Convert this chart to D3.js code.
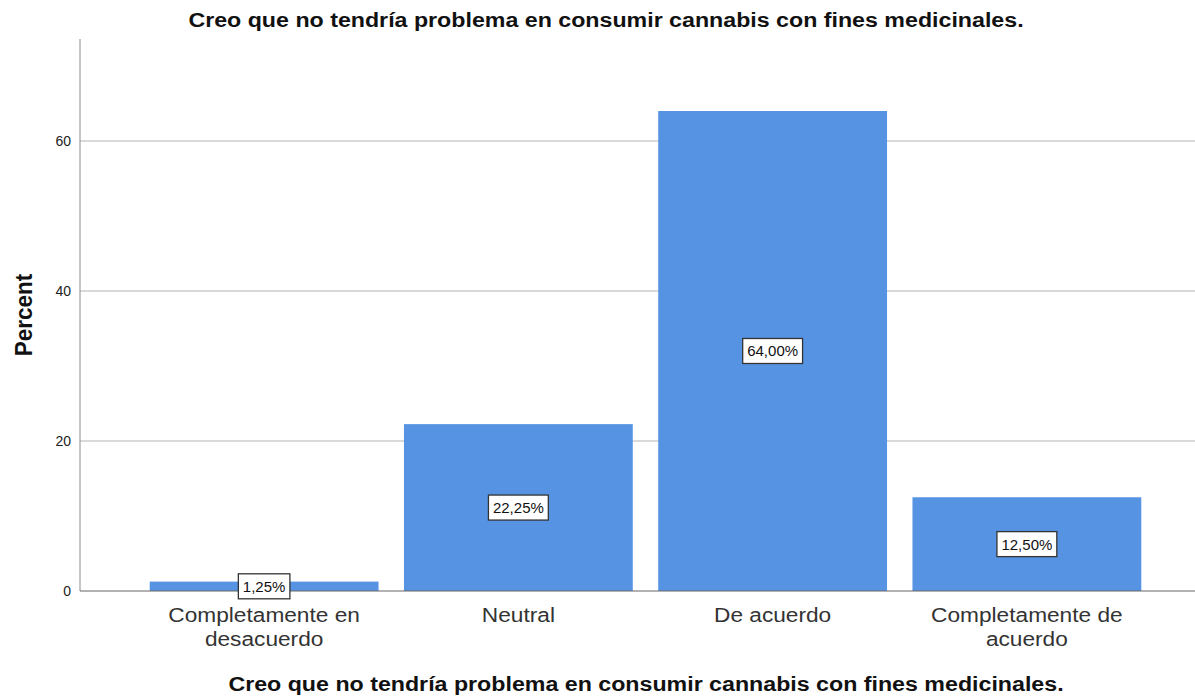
<!DOCTYPE html>
<html>
<head>
<meta charset="utf-8">
<script src="https://cdn.jsdelivr.net/npm/d3@7"></script>
<style>
  body { margin: 0; background: #fff; }
  svg { font-family: "Liberation Sans", Arial, sans-serif; }
</style>
</head>
<body>
<svg id="chart" width="1195" height="699"></svg>
<script>
// data
const categories = ["Completamente en|desacuerdo", "Neutral", "De acuerdo", "Completamente de|acuerdo"];
const percents = [1.25, 22.25, 64.00, 12.50];
const yTicks = [0, 20, 40, 60];
const chartTitle = "Creo que no tendría problema en consumir cannabis con fines medicinales.";

const svg = d3.select("#chart");
const plotLeft = 80, plotRight = 1195, plotTop = 39, plotBottom = 591;

const x = d3.scaleBand()
    .domain(categories)
    .range([137, 1154])
    .paddingInner(0.1)
    .paddingOuter(0.05);

const y = d3.scaleLinear()
    .domain([0, 73.6])
    .range([plotBottom, plotTop]);

// gridlines
svg.append("g")
    .selectAll("line")
    .data(yTicks.filter(d => d > 0))
    .join("line")
    .attr("x1", plotLeft).attr("x2", plotRight)
    .attr("y1", d => y(d)).attr("y2", d => y(d))
    .attr("stroke", "#b4b4b4").attr("stroke-width", 1);

// bars
svg.append("g")
    .selectAll("rect")
    .data(categories)
    .join("rect")
    .attr("x", d => x(d))
    .attr("width", x.bandwidth())
    .attr("y", (d, i) => y(percents[i]))
    .attr("height", (d, i) => y(0) - y(percents[i]))
    .attr("fill", "#5694e3");

// y axis
const yAxis = svg.append("g")
    .attr("transform", `translate(${plotLeft},0)`)
    .call(d3.axisLeft(y).tickValues(yTicks).tickSize(0).tickPadding(9));
yAxis.select(".domain").attr("stroke", "#8c8c8c").attr("d", `M0,${plotTop}V${plotBottom}`);
yAxis.selectAll("text").attr("font-size", 14).attr("fill", "#222")
    .attr("font-family", "Liberation Sans, Arial, sans-serif");

// baseline
svg.append("line")
    .attr("x1", plotLeft).attr("x2", plotRight)
    .attr("y1", y(0)).attr("y2", y(0))
    .attr("stroke", "#666").attr("stroke-width", 1.2);

// x category labels (source font is a bit wider than Liberation, stretch it)
svg.append("g")
    .selectAll("text")
    .data(categories)
    .join("text")
    .attr("text-anchor", "middle")
    .attr("font-size", 21)
    .attr("fill", "#333")
    .attr("transform", d => `translate(${x(d) + x.bandwidth() / 2},622) scale(1.08,1)`)
    .each(function(d) {
        d3.select(this).selectAll("tspan")
            .data(d.split("|"))
            .join("tspan")
            .attr("x", 0)
            .attr("dy", (p, i) => i === 0 ? 0 : 24)
            .text(p => p);
    });

// value labels
const fmt = v => v.toFixed(2).replace(".", ",") + "%";
const lab = svg.append("g")
    .selectAll("g")
    .data(categories)
    .join("g")
    .attr("transform", (d, i) => `translate(${x(d) + x.bandwidth() / 2},${(y(0) + y(percents[i])) / 2})`);
lab.append("text")
    .attr("text-anchor", "middle")
    .attr("dy", "0.36em")
    .attr("font-size", 15)
    .attr("fill", "#111")
    .text((d, i) => fmt(percents[i]));
lab.each(function() {
    const g = d3.select(this);
    const bb = g.select("text").node().getBBox();
    g.insert("rect", "text")
        .attr("x", bb.x - 4.5).attr("y", -12.5)
        .attr("width", bb.width + 9).attr("height", 25)
        .attr("fill", "#fff").attr("stroke", "#333").attr("stroke-width", 1.3);
});

// titles
svg.append("text")
    .attr("transform", "translate(606,27) scale(1.19,1)")
    .attr("text-anchor", "middle")
    .attr("font-size", 19.5).attr("font-weight", "bold").attr("fill", "#111")
    .text(chartTitle);

svg.append("text")
    .attr("transform", "translate(646,691) scale(1.19,1)")
    .attr("text-anchor", "middle")
    .attr("font-size", 19.5).attr("font-weight", "bold").attr("fill", "#111")
    .text(chartTitle);

svg.append("text")
    .attr("transform", "translate(32,315) scale(1.1,1) rotate(-90)")
    .attr("text-anchor", "middle")
    .attr("font-size", 22.5).attr("font-weight", "bold").attr("fill", "#111")
    .text("Percent");
</script>
</body>
</html>
